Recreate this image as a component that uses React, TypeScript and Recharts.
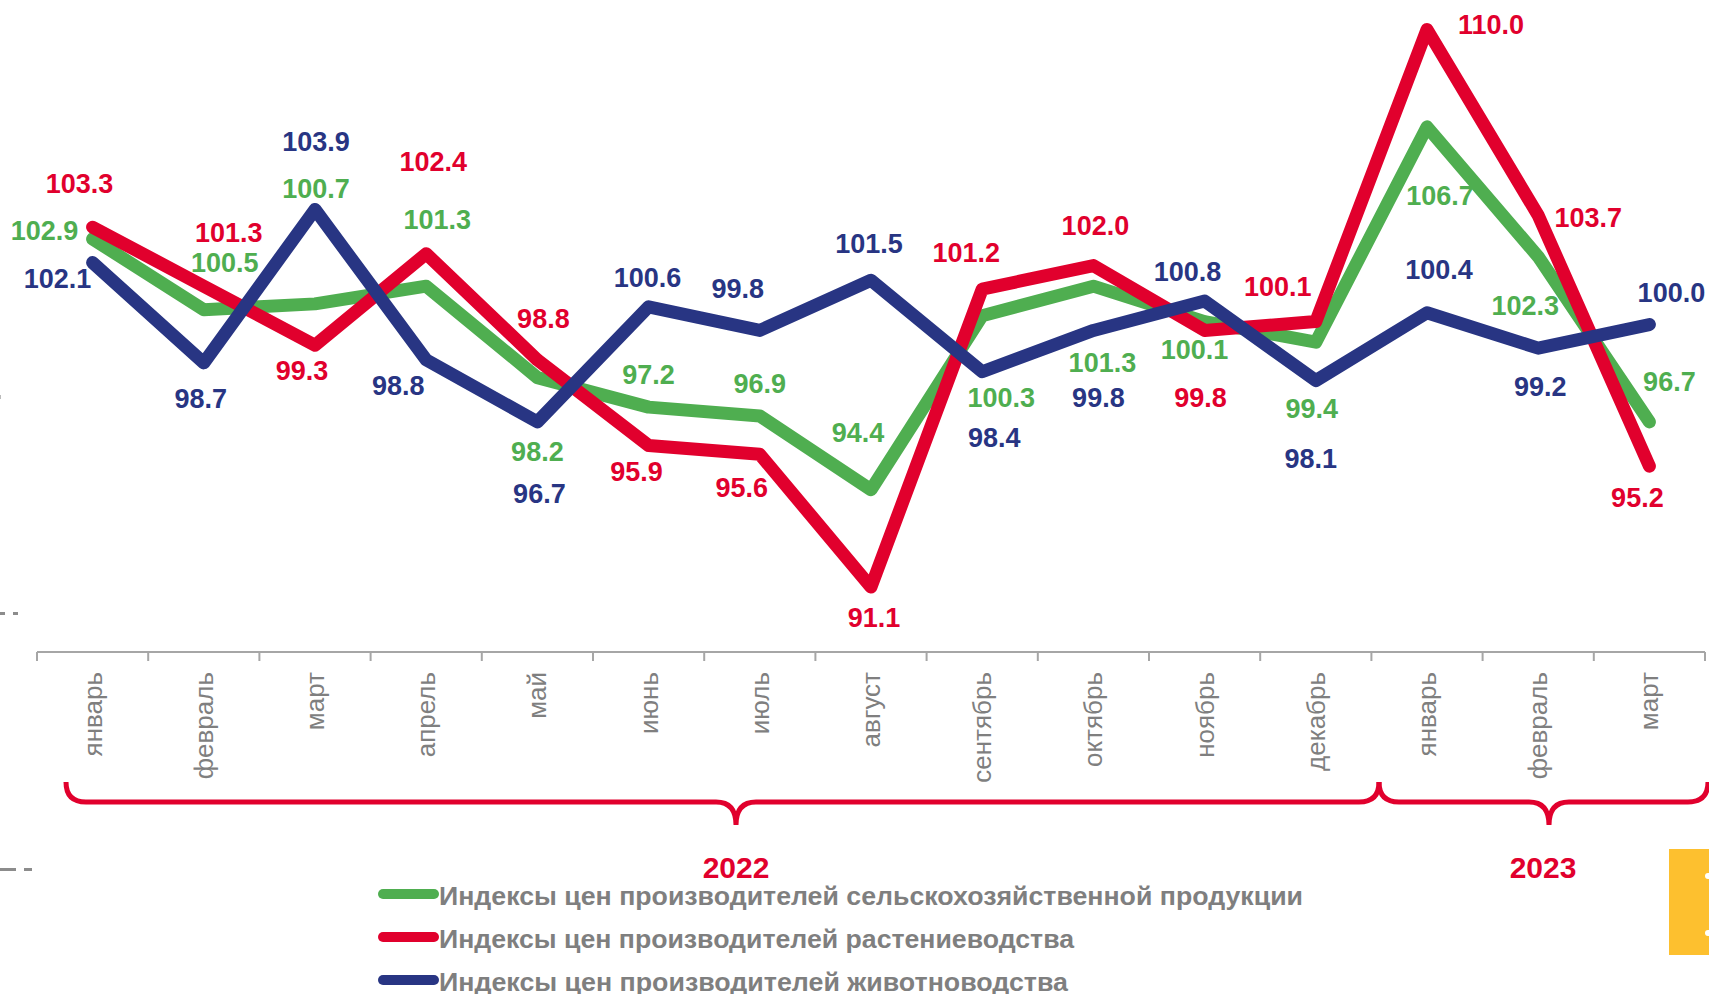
import React from 'react';
import { LineChart, Line, XAxis, YAxis, LabelList } from 'recharts';

const months = [
  'январь', 'февраль', 'март', 'апрель', 'май', 'июнь', 'июль', 'август',
  'сентябрь', 'октябрь', 'ноябрь', 'декабрь', 'январь', 'февраль', 'март',
];

// индексы цен производителей, % к предыдущему месяцу
const agriculture = [102.9, 100.5, 100.7, 101.3, 98.2, 97.2, 96.9, 94.4, 100.3, 101.3, 100.1, 99.4, 106.7, 102.3, 96.7];
const crops = [103.3, 101.3, 99.3, 102.4, 98.8, 95.9, 95.6, 91.1, 101.2, 102.0, 99.8, 100.1, 110.0, 103.7, 95.2];
const livestock = [102.1, 98.7, 103.9, 98.8, 96.7, 100.6, 99.8, 101.5, 98.4, 99.8, 100.8, 98.1, 100.4, 99.2, 100.0];

const years = ['2022', '2023'];
const seriesNames = [
  'Индексы цен производителей сельскохозяйственной продукции',
  'Индексы цен производителей растениеводства',
  'Индексы цен производителей животноводства',
];

// label offsets from each point, as Excel placed them
const agriOffsets = [
  [-48, -9], [21, -47], [1, -116], [11, -67], [0, 74], [0, -33], [0, -33], [-13, -57],
  [19, 82], [9, 76], [-10, 28], [-4, 66], [13, 68], [-13, 49], [20, -41],
];
const cropOffsets = [
  [-13, -44], [25, -54], [-13, 25], [7, -92], [6, -42], [-12, 26], [-18, 33], [3, 30],
  [-16, -37], [2, -40], [-4, 67], [-38, -35], [64, -5], [50, 2], [-12, 31],
];
const livestockOffsets = [
  [-35, 16], [-3, 35], [1, -68], [-28, 25], [2, 71], [-1, -30], [-22, -42], [-2, -37],
  [12, 66], [5, 67], [-17, -30], [-5, 78], [12, -43], [2, 38], [22, -32],
];

const GREEN = '#4fae50';
const RED = '#e1002d';
const BLUE = '#283583';
const GRAY = '#7f7f7f';
const FONT = '"Liberation Sans", Arial, sans-serif';

const W = 1709;
const H = 994;
const LEFT = 37;
const RIGHT = 4;
const BAND = (W - LEFT - RIGHT) / months.length;

const data = months.map((m, i) => ({
  month: m,
  agri: agriculture[i],
  crops: crops[i],
  live: livestock[i],
}));

const MonthTick = (props: any) => {
  const { x, y, payload, index } = props;
  return (
    <g>
      <line x1={x - BAND / 2} y1={y} x2={x - BAND / 2} y2={y + 9} stroke="#a6a6a6" strokeWidth={2} />
      {index === months.length - 1 && (
        <line x1={x + BAND / 2} y1={y} x2={x + BAND / 2} y2={y + 9} stroke="#a6a6a6" strokeWidth={2} />
      )}
      <text
        transform={`translate(${x + 9},${y + 20}) rotate(-90)`}
        textAnchor="end"
        fill={GRAY}
        fontSize={26}
        fontFamily={FONT}
      >
        {payload.value}
      </text>
    </g>
  );
};

const makeLabel = (offsets: number[][], color: string) => (props: any) => {
  const { x, y, value, index } = props;
  const [dx, dy] = offsets[index] || [0, 0];
  return (
    <text
      x={x + dx}
      y={y + dy}
      dy="0.36em"
      textAnchor="middle"
      fill={color}
      fontSize={27}
      fontWeight="bold"
      fontFamily={FONT}
    >
      {Number(value).toFixed(1)}
    </text>
  );
};

const legendColors = [GREEN, RED, BLUE];
const legendY = [894, 937, 980];
const legendWidths = [864, 635, 629];

export default function App() {
  return (
    <div style={{ position: 'absolute', left: 0, top: 0, width: W, height: H, background: '#fff' }}>
      <LineChart width={W} height={H} data={data} margin={{ top: 0, right: RIGHT, bottom: 0, left: LEFT }}>
        <XAxis
          dataKey="month"
          height={342}
          interval={0}
          padding={{ left: BAND / 2, right: BAND / 2 }}
          tickLine={false}
          tickSize={0}
          tickMargin={0}
          axisLine={{ stroke: '#a6a6a6', strokeWidth: 2 }}
          tick={<MonthTick />}
        />
        <YAxis hide width={0} type="number" domain={[88.9, 111]} allowDataOverflow />
        <Line
          dataKey="agri"
          stroke={GREEN}
          strokeWidth={13}
          strokeLinecap="round"
          strokeLinejoin="round"
          dot={false}
          activeDot={false}
          isAnimationActive={false}
        >
          <LabelList dataKey="agri" content={makeLabel(agriOffsets, GREEN)} />
        </Line>
        <Line
          dataKey="crops"
          stroke={RED}
          strokeWidth={13}
          strokeLinecap="round"
          strokeLinejoin="round"
          dot={false}
          activeDot={false}
          isAnimationActive={false}
        >
          <LabelList dataKey="crops" content={makeLabel(cropOffsets, RED)} />
        </Line>
        <Line
          dataKey="live"
          stroke={BLUE}
          strokeWidth={13}
          strokeLinecap="round"
          strokeLinejoin="round"
          dot={false}
          activeDot={false}
          isAnimationActive={false}
        >
          <LabelList dataKey="live" content={makeLabel(livestockOffsets, BLUE)} />
        </Line>
      </LineChart>

      <svg
        width={W}
        height={H}
        style={{ position: 'absolute', left: 0, top: 0, pointerEvents: 'none' }}
      >
        {/* year braces */}
        <path
          d="M66,782 Q66,802 86,802 L716,802 Q736,802 736,825 Q736,802 756,802 L1359,802 Q1379,802 1379,782"
          fill="none"
          stroke={RED}
          strokeWidth={5}
        />
        <path
          d="M1379,782 Q1379,802 1399,802 L1529,802 Q1549,802 1549,825 Q1549,802 1569,802 L1688,802 Q1708,802 1708,782"
          fill="none"
          stroke={RED}
          strokeWidth={5}
        />
        <text x={736} y={878} textAnchor="middle" fill={RED} fontSize={30} fontWeight="bold" fontFamily={FONT}>
          {years[0]}
        </text>
        <text x={1543} y={878} textAnchor="middle" fill={RED} fontSize={30} fontWeight="bold" fontFamily={FONT}>
          {years[1]}
        </text>

        {/* legend */}
        {seriesNames.map((name, i) => (
          <g key={name}>
            <line
              x1={383}
              y1={legendY[i]}
              x2={434}
              y2={legendY[i]}
              stroke={legendColors[i]}
              strokeWidth={10}
              strokeLinecap="round"
            />
            <text
              x={439}
              y={legendY[i] + 11}
              fill={GRAY}
              fontSize={26}
              fontWeight="bold"
              fontFamily={FONT}
              textLength={legendWidths[i]}
              lengthAdjust="spacingAndGlyphs"
            >
              {name}
            </text>
          </g>
        ))}

        {/* fragments at the edges of the slide */}
        <rect x={1669} y={849} width={40} height={106} fill="#fdc02f" />
        <circle cx={1708} cy={876} r={3} fill="#fff" />
        <circle cx={1708} cy={933} r={3} fill="#fff" />
        <rect x={0} y={612} width={5} height={3} fill="#8c8c8c" />
        <rect x={13} y={612} width={5} height={3} fill="#8c8c8c" />
        <rect x={0} y={868} width={16} height={3} fill="#8c8c8c" />
        <rect x={24} y={868} width={8} height={3} fill="#8c8c8c" />
        <rect x={0} y={395} width={1} height={4} fill="#bbbbbb" />
      </svg>
    </div>
  );
}
